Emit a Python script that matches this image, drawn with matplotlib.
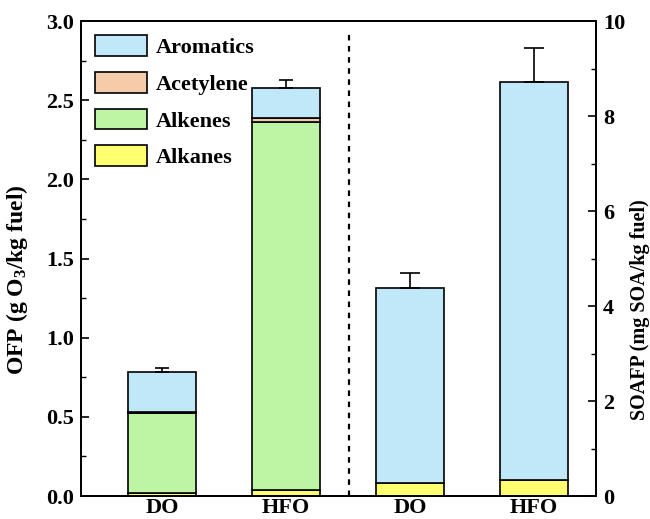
import matplotlib
matplotlib.use("Agg")
import matplotlib.pyplot as plt
from matplotlib.ticker import MultipleLocator
from matplotlib.patches import Patch

plt.rcParams['font.family'] = ['Liberation Serif', 'DejaVu Serif']
plt.rcParams['font.weight'] = 'bold'
plt.rcParams['mathtext.fontset'] = 'custom'
plt.rcParams['mathtext.rm'] = 'Liberation Serif:bold'
plt.rcParams['mathtext.bf'] = 'Liberation Serif:bold'
plt.rcParams['mathtext.default'] = 'bf'

# Data
fuels = ["DO", "HFO"]
groups = ["Alkanes", "Alkenes", "Acetylene", "Aromatics"]
colors = {"Alkanes": "#FFFF70", "Alkenes": "#BDF5A5",
          "Acetylene": "#F5CBAA", "Aromatics": "#C0E8F8"}

ofp_alkanes = [0.017, 0.038]
ofp_alkenes = [0.508, 2.322]
ofp_acetylene = [0.005, 0.030]
ofp_aromatics = [0.251, 0.189]
ofp_err = [0.03, 0.05]

soafp_alkanes = [0.28, 0.34]
soafp_aromatics = [4.105, 8.38]
soafp_err = [0.31, 0.72]

fig = plt.figure(figsize=(6.5, 5.19), dpi=100)
ax = fig.add_axes([0.1246, 0.0443, 0.7924, 0.9152])
ax2 = ax.twinx()

w = 0.552
xl = [0, 1]
xr = [2, 3]
ec = dict(edgecolor='black', linewidth=1.2)

ofp_stack = [ofp_alkanes, ofp_alkenes, ofp_acetylene, ofp_aromatics]
bottom = [0, 0]
for name, vals in zip(groups, ofp_stack):
    ax.bar(xl, vals, w, bottom=bottom, color=colors[name], **ec, zorder=2)
    bottom = [b + v for b, v in zip(bottom, vals)]
ax.errorbar(xl, bottom, yerr=[[0, 0], ofp_err], fmt='none', ecolor='black',
            elinewidth=1.2, capsize=5, capthick=1.2, zorder=3)

sbottom = [0, 0]
for name, vals in zip(["Alkanes", "Aromatics"], [soafp_alkanes, soafp_aromatics]):
    ax2.bar(xr, vals, w, bottom=sbottom, color=colors[name], **ec, zorder=2)
    sbottom = [b + v for b, v in zip(sbottom, vals)]
ax2.errorbar(xr, sbottom, yerr=[[0, 0], soafp_err], fmt='none', ecolor='black',
             elinewidth=1.2, capsize=7.5, capthick=1.2, zorder=3)

ax.axvline(1.508, ymin=0.0, ymax=0.975, color='black', linewidth=1.6,
           dashes=(2.5, 2.5))

ax.set_xlim(-0.653, 3.5)
ax.set_ylim(0, 3.0)
ax2.set_ylim(0, 10)
ax.set_xticks(xl + xr)
ax.set_xticklabels(fuels + fuels, fontsize=16, fontweight='bold')
ax.tick_params(axis='x', length=0, pad=1.5)

ax.yaxis.set_major_locator(MultipleLocator(0.5))
ax.yaxis.set_minor_locator(MultipleLocator(0.25))
ax2.yaxis.set_major_locator(MultipleLocator(2))
ax2.yaxis.set_minor_locator(MultipleLocator(1))
for a in (ax, ax2):
    a.tick_params(axis='y', which='major', direction='in', length=6, width=1.2,
                  labelsize=16, pad=5)
    a.tick_params(axis='y', which='minor', direction='in', length=3.5, width=1.0)
    for lab in a.get_yticklabels():
        lab.set_fontweight('bold')
ax.yaxis.set_major_formatter(matplotlib.ticker.FormatStrFormatter('%.1f'))

for s in ax.spines.values():
    s.set_linewidth(1.3)
for s in ax2.spines.values():
    s.set_linewidth(1.3)

ax.set_ylabel(r"OFP (g O$_\mathbf{3}$/kg fuel)", fontsize=17, fontweight='bold')
ax.yaxis.set_label_coords(-0.099, 0.455)
ax2.set_ylabel("SOAFP (mg SOA/kg fuel)", fontsize=14.5, fontweight='bold')
ax2.yaxis.set_label_coords(1.066, 0.393)

handles = [Patch(facecolor=colors[g], edgecolor='black', linewidth=1.2, label=g)
           for g in ["Aromatics", "Acetylene", "Alkenes", "Alkanes"]]
ax.legend(handles=handles, loc='upper left', frameon=False,
          handlelength=2.3, handleheight=1.05, labelspacing=0.62,
          handletextpad=0.4, borderaxespad=0.25, bbox_to_anchor=(0.0, 1.0),
          prop={'weight': 'bold', 'size': 16})

fig.savefig("out.png", dpi=100)
